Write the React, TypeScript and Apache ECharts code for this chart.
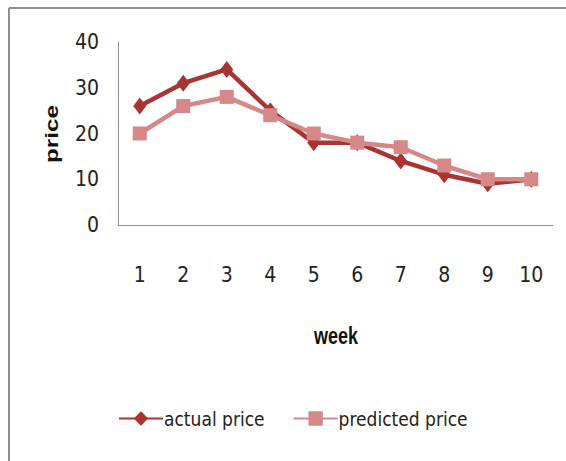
import React, { useEffect, useRef } from "react";
import * as echarts from "echarts";

const weeks = ["1", "2", "3", "4", "5", "6", "7", "8", "9", "10"];
const actualPrice = [26, 31, 34, 25, 18, 18, 14, 11, 9, 10];
const predictedPrice = [20, 26, 28, 24, 20, 18, 17, 13, 10, 10];

const ACTUAL_COLOR = "#A83434";
const PREDICTED_COLOR = "#D68888";
const NARROW = "'DejaVu Sans Condensed', 'Liberation Sans Narrow', sans-serif";

export default function App() {
  const ref = useRef<HTMLDivElement>(null);

  useEffect(() => {
    if (!ref.current) return;
    const chart = echarts.init(ref.current, undefined, { renderer: "svg" });
    chart.setOption({
      animation: false,
      backgroundColor: "#ffffff",
      grid: { left: 118, top: 42, right: 13, bottom: 236, containLabel: false },
      xAxis: {
        type: "category",
        data: weeks,
        boundaryGap: true,
        axisLine: { lineStyle: { color: "#8c8c8c", width: 1 } },
        axisTick: { show: false },
        axisLabel: { color: "#222", fontFamily: NARROW, fontSize: 21, margin: 39 },
        splitLine: { show: false },
      },
      yAxis: {
        type: "value",
        min: 0,
        max: 40,
        interval: 10,
        axisLine: { show: true, lineStyle: { color: "#8c8c8c", width: 1 } },
        axisTick: { show: false },
        axisLabel: { color: "#222", fontFamily: NARROW, fontSize: 21, margin: 19 },
        splitLine: { show: false },
      },
      legend: {
        bottom: 28,
        left: 113,
        itemWidth: 44,
        itemHeight: 18,
        itemGap: 28,
        textStyle: { color: "#222", fontFamily: NARROW, fontSize: 19, padding: [0, 0, 0, -4] },
        data: ["actual price", "predicted price"],
      },
      graphic: [
        {
          type: "line",
          shape: { x1: 9, y1: 8, x2: 566, y2: 8 },
          style: { stroke: "#8e8e8e", lineWidth: 2 },
        },
        {
          type: "line",
          shape: { x1: 9, y1: 8, x2: 9, y2: 461 },
          style: { stroke: "#8e8e8e", lineWidth: 2 },
        },
        {
          type: "text",
          x: 52,
          y: 134,
          rotation: Math.PI / 2,
          scaleX: 1.35,
          style: {
            text: "price",
            font: "bold 18px 'Liberation Sans', Arial, sans-serif",
            fill: "#111",
            align: "center",
            verticalAlign: "middle",
          },
        },
        {
          type: "text",
          x: 336,
          y: 336,
          scaleY: 1.3,
          style: {
            text: "week",
            font: "bold 18px 'Liberation Sans', Arial, sans-serif",
            fill: "#111",
            align: "center",
            verticalAlign: "middle",
          },
        },
      ],
      series: [
        {
          name: "actual price",
          type: "line",
          data: actualPrice,
          symbol: "diamond",
          symbolSize: [13, 17],
          color: ACTUAL_COLOR,
          lineStyle: { color: ACTUAL_COLOR, width: 4.5 },
          itemStyle: { color: ACTUAL_COLOR },
          z: 2,
        },
        {
          name: "predicted price",
          type: "line",
          data: predictedPrice,
          symbol: "rect",
          symbolSize: 14,
          color: PREDICTED_COLOR,
          lineStyle: { color: PREDICTED_COLOR, width: 4.5 },
          itemStyle: { color: PREDICTED_COLOR },
          z: 3,
        },
      ],
    });
    return () => chart.dispose();
  }, []);

  return (
    <div
      ref={ref}
      style={{ position: "fixed", left: 0, top: 0, width: 566, height: 461 }}
    />
  );
}
